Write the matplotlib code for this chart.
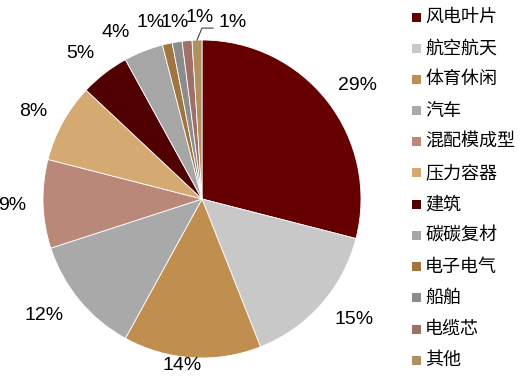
import matplotlib
matplotlib.use("Agg")
import matplotlib.pyplot as plt
from matplotlib.patches import Rectangle
import numpy as np

# Application share of carbon-fiber demand (%)
categories = ["风电叶片", "航空航天", "体育休闲", "汽车", "混配模成型", "压力容器",
              "建筑", "碳碳复材", "电子电气", "船舶", "电缆芯", "其他"]
shares = [29, 15, 14, 12, 9, 8, 5, 4, 1, 1, 1, 1]
colors = ["#660000", "#C8C8C8", "#C08E4E", "#A9A9A9", "#B98878", "#D4AA72",
          "#500000", "#A6A6A6", "#A07540", "#8C8C8C", "#9E7066", "#B09060"]

W, H, DPI = 523, 382, 100
fig = plt.figure(figsize=(W / DPI, H / DPI), dpi=DPI)

# Pie axes: centre (202, 199) px, radius 159 px
cx, cy, r = 202, 199, 159
ax = fig.add_axes([(cx - r) / W, (H - cy - r) / H, 2 * r / W, 2 * r / H])
wedges, _ = ax.pie(shares, colors=colors, startangle=90, counterclock=False,
                   radius=1, wedgeprops=dict(edgecolor="white", linewidth=0.6))
ax.set_xlim(-1, 1)
ax.set_ylim(-1, 1)
ax.set_aspect("equal")
ax.axis("off")

label_font = dict(family=["Liberation Sans", "DejaVu Sans"], fontsize=14, color="black")

# Data-label positions (in pie-radius units) around the outside of the pie
label_pos = [(0.981, 0.711), (0.956, -0.761), (-0.126, -1.050), (-0.994, -0.730),
             (-1.195, -0.038), (-1.063, 0.553), (-0.767, 0.912), (-0.541, 1.047),
             (-0.32, 1.107), (-0.17, 1.113), (-0.013, 1.14), (0.19, 1.107)]
for val, (x, y) in zip(shares, label_pos):
    ax.text(x, y, f"{val}%", ha="center", va="center", **label_font)

# Leader line for the last slice
last = wedges[-1]
ang = np.deg2rad((last.theta1 + last.theta2) / 2)
ax.plot([np.cos(ang), 0.0, 0.07], [np.sin(ang), 1.075, 1.075],
        color="#404040", lw=0.8, clip_on=False)

# Legend drawn as square swatches with labels
leg_font = dict(family=["Noto Sans CJK SC", "DejaVu Sans"], fontsize=13, color="black")
y0, step = 17, 31.2
for i, (lab, col) in enumerate(zip(categories, colors)):
    yc = y0 + i * step
    fig.patches.append(Rectangle((412 / W, (H - yc - 4.5) / H), 9 / W, 9 / H,
                                 transform=fig.transFigure, facecolor=col,
                                 edgecolor="none"))
    fig.text(425 / W, (H - yc) / H, lab, ha="left", va="center", **leg_font)

fig.savefig("out.png", dpi=DPI)
